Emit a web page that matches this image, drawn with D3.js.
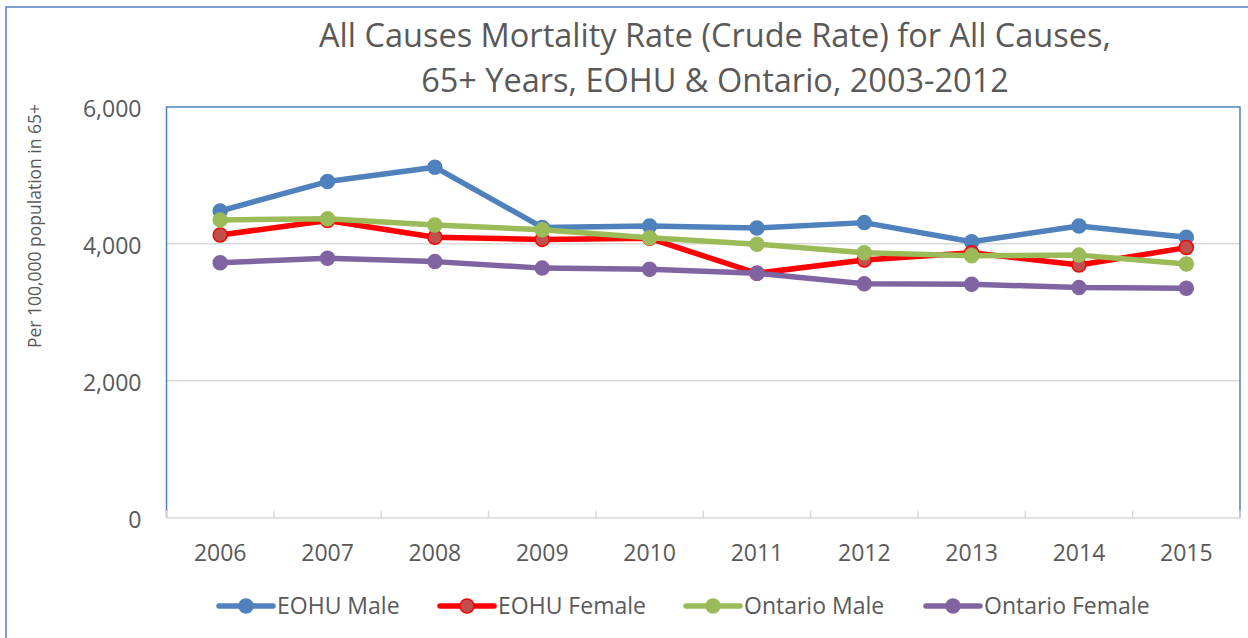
<!DOCTYPE html>
<html>
<head>
<meta charset="utf-8">
<script src="https://cdn.jsdelivr.net/npm/d3@7"></script>
<style>
  body { margin: 0; background: #fff; }
  svg { display: block; font-family: "Open Sans", "Liberation Sans", sans-serif; }
</style>
</head>
<body>
<svg id="chart" width="1248" height="638"></svg>
<script>
// ===== 데이터 =====
var years = ["2006", "2007", "2008", "2009", "2010", "2011", "2012", "2013", "2014", "2015"];
var eohuMale      = [4480, 4910, 5120, 4240, 4260, 4230, 4310, 4030, 4260, 4095];
var eohuFemale    = [4130, 4340, 4095, 4065, 4080, 3570, 3765, 3870, 3690, 3945];
var ontarioMale   = [4350, 4365, 4275, 4205, 4090, 3995, 3870, 3825, 3835, 3705];
var ontarioFemale = [3725, 3790, 3740, 3645, 3630, 3570, 3415, 3410, 3360, 3350];
var yTicks = [0, 2000, 4000, 6000];

var series = [
	{ name: "EOHU Male",      values: eohuMale,      line: "#4f81bd", fill: "#4f81bd", stroke: "#4f81bd" },
	{ name: "EOHU Female",    values: eohuFemale,    line: "#ff0000", fill: "#c0504d", stroke: "#ff0000" },
	{ name: "Ontario Male",   values: ontarioMale,   line: "#9bbb59", fill: "#9bbb59", stroke: "#9bbb59" },
	{ name: "Ontario Female", values: ontarioFemale, line: "#8064a2", fill: "#8064a2", stroke: "#8064a2" }
];

var svg = d3.select("#chart");
var textColor = "#595959";
var fontFamily = '"Open Sans", "Liberation Sans", sans-serif';

// 바깥 테두리
svg.append("rect")
	.attr("x", 6).attr("y", 7)
	.attr("width", 1260).attr("height", 650)
	.attr("fill", "none")
	.attr("stroke", "#4f81bd")
	.attr("stroke-width", 1.5);

var plot = { left: 166.5, right: 1240, top: 107, bottom: 517.5 };

var x = d3.scaleBand()
	.domain(years)
	.range([plot.left, plot.right]);

var y = d3.scaleLinear()
	.domain([0, 6000])
	.range([plot.bottom, plot.top]);

// 그리드
svg.append("g")
	.selectAll("line")
	.data(yTicks.filter(d => d > 0 && d < 6000))
	.enter().append("line")
	.attr("x1", plot.left).attr("x2", plot.right)
	.attr("y1", d => y(d)).attr("y2", d => y(d))
	.attr("stroke", "#d9d9d9")
	.attr("stroke-width", 1.5);

// 플롯 영역 테두리 (왼, 위, 오른쪽)
svg.append("path")
	.attr("d", `M${plot.left},${plot.bottom}V${plot.top}H${plot.right}V${plot.bottom}`)
	.attr("fill", "none")
	.attr("stroke", "#4f81bd")
	.attr("stroke-width", 1.5);

// X축
var xAxis = svg.append("g")
	.attr("transform", `translate(0,${plot.bottom})`)
	.call(d3.axisBottom(x).tickSize(0).tickPadding(27))
	.attr("font-family", fontFamily);
xAxis.select(".domain").attr("stroke", "#d9d9d9").attr("stroke-width", 1.5);
xAxis.selectAll("text")
	.style("font-size", "23px")
	.style("fill", textColor);

// 카테고리 경계 눈금
svg.append("g")
	.selectAll("line")
	.data(years.concat(["end"]))
	.enter().append("line")
	.attr("x1", (d, i) => plot.left + i * x.step())
	.attr("x2", (d, i) => plot.left + i * x.step())
	.attr("y1", plot.bottom - 7)
	.attr("y2", plot.bottom)
	.attr("stroke", "#d9d9d9")
	.attr("stroke-width", 1.5);

// Y축
var yAxis = svg.append("g")
	.attr("transform", `translate(${plot.left},0)`)
	.call(d3.axisLeft(y).tickValues(yTicks).tickFormat(d3.format(",")).tickSize(0).tickPadding(25))
	.attr("font-family", fontFamily);
yAxis.select(".domain").remove();
yAxis.selectAll("text")
	.attr("dy", "0.42em")
	.style("font-size", "23px")
	.style("fill", textColor);

// Y축 제목
svg.append("text")
	.attr("transform", "translate(41,226) rotate(-90)")
	.attr("text-anchor", "middle")
	.style("font-size", "17.5px")
	.style("fill", textColor)
	.text("Per 100,000 population in 65+");

// 제목
var title = svg.append("text")
	.attr("text-anchor", "middle")
	.style("font-size", "32.5px")
	.style("fill", textColor);
title.append("tspan").attr("x", 715).attr("y", 47)
	.text("All Causes Mortality Rate (Crude Rate) for All Causes,");
title.append("tspan").attr("x", 715).attr("y", 92)
	.text("65+ Years, EOHU & Ontario, 2003-2012");

// 선 + 마커
var line = d3.line()
	.x((d, i) => x(years[i]) + x.bandwidth() / 2)
	.y(d => y(d));

series.forEach(s => {
	var g = svg.append("g");
	g.append("path")
		.attr("d", line(s.values))
		.attr("fill", "none")
		.attr("stroke", s.line)
		.attr("stroke-width", 5.5)
		.attr("stroke-linejoin", "round");
	g.selectAll("circle")
		.data(s.values)
		.enter().append("circle")
		.attr("cx", (d, i) => x(years[i]) + x.bandwidth() / 2)
		.attr("cy", d => y(d))
		.attr("r", 7)
		.attr("fill", s.fill)
		.attr("stroke", s.stroke)
		.attr("stroke-width", 1.5);
});

// 범례
var legendX = [219, 440, 686, 926];
var legend = svg.append("g")
	.selectAll("g")
	.data(series)
	.enter().append("g")
	.attr("transform", (d, i) => `translate(${legendX[i]},606)`);

legend.append("line")
	.attr("x1", 0).attr("x2", 54)
	.attr("stroke", d => d.line)
	.attr("stroke-width", 5.5)
	.attr("stroke-linecap", "round");
legend.append("circle")
	.attr("cx", 27).attr("r", 7)
	.attr("fill", d => d.fill)
	.attr("stroke", d => d.stroke)
	.attr("stroke-width", 1.5);
legend.append("text")
	.attr("x", 58)
	.attr("dy", "0.35em")
	.style("font-size", "23px")
	.style("fill", textColor)
	.text(d => d.name);
</script>
</body>
</html>
